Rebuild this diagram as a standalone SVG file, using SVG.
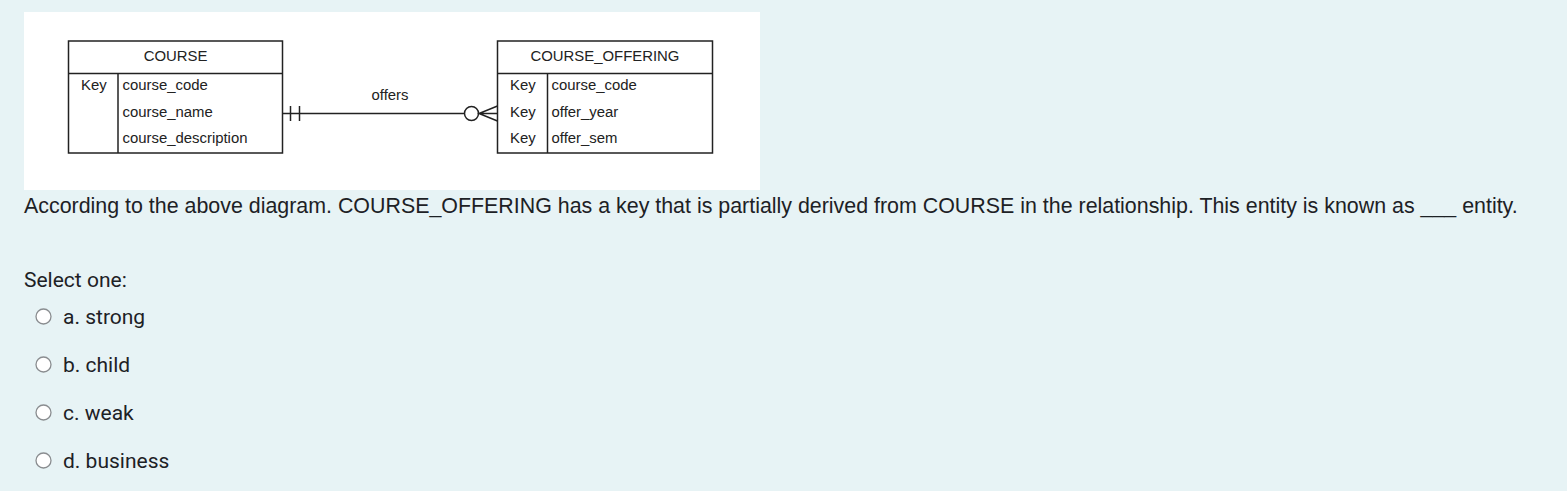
<svg xmlns="http://www.w3.org/2000/svg" width="1567" height="491" viewBox="0 0 1567 491">
<style>
.bg{fill:#e7f3f5}
.box{fill:#ffffff;stroke:#222;stroke-width:1.5}
.ln{stroke:#222;stroke-width:1.5;fill:none}
.er{font-family:"Liberation Sans",Arial,sans-serif;font-size:14.9px;fill:#222}
.q{font-family:"Liberation Sans",Arial,sans-serif;font-size:21.4px;fill:#1d2125}
.opt{font-family:Roboto,"Liberation Sans",sans-serif;font-size:21px;fill:#1d2125}
.radio{fill:#ffffff;stroke:#8a8d90;stroke-width:1.3}
</style>
<rect class="bg" x="0" y="0" width="1567" height="491"/>
<rect x="24" y="12" width="736" height="178" fill="#ffffff"/>
<g id="course">
<rect class="box" x="68.5" y="41" width="214" height="112"/>
<line class="ln" x1="68.5" y1="73.5" x2="282.5" y2="73.5"/>
<line class="ln" x1="118" y1="73.5" x2="118" y2="153"/>
<text class="er" x="175.5" y="61" text-anchor="middle">COURSE</text>
<text class="er" x="81" y="90">Key</text>
<text class="er" x="122.5" y="90">course_code</text>
<text class="er" x="122.5" y="116.5">course_name</text>
<text class="er" x="122.5" y="142.5">course_description</text>
</g>
<g id="course_offering">
<rect class="box" x="497.5" y="41" width="215" height="112"/>
<line class="ln" x1="497.5" y1="73.5" x2="712.5" y2="73.5"/>
<line class="ln" x1="547.5" y1="73.5" x2="547.5" y2="153"/>
<text class="er" x="605" y="61" text-anchor="middle">COURSE_OFFERING</text>
<text class="er" x="510" y="90">Key</text>
<text class="er" x="510" y="116.5">Key</text>
<text class="er" x="510" y="142.5">Key</text>
<text class="er" x="551.5" y="90">course_code</text>
<text class="er" x="551.5" y="116.5">offer_year</text>
<text class="er" x="551.5" y="142.5">offer_sem</text>
</g>
<g id="connectors">
<line class="ln" x1="282.5" y1="113.5" x2="464" y2="113.5"/>
<line class="ln" x1="290.5" y1="106" x2="290.5" y2="121"/>
<line class="ln" x1="299.5" y1="106" x2="299.5" y2="121"/>
<circle class="ln" cx="471.5" cy="113.5" r="7"/>
<path class="ln" d="M497.5 106 L479 113.5 L497.5 121 M479 113.5 L497.5 113.5"/>
<text class="er" x="390" y="100" text-anchor="middle">offers</text>
</g>
<g id="question">
<text class="q" x="24" y="213">According to the above diagram. COURSE_OFFERING has a key that is partially derived from COURSE in the relationship. This entity is known as ___ entity.</text>
<text class="opt" x="24" y="286.5">Select one:</text>
<circle class="radio" cx="43.5" cy="316.5" r="7.5"/>
<circle class="radio" cx="43.5" cy="364.5" r="7.5"/>
<circle class="radio" cx="43.5" cy="412.5" r="7.5"/>
<circle class="radio" cx="43.5" cy="460.5" r="7.5"/>
<text class="opt" x="63" y="324">a. strong</text>
<text class="opt" x="63" y="372">b. child</text>
<text class="opt" x="63" y="420">c. weak</text>
<text class="opt" x="63" y="468">d. business</text>
</g>
</svg>
